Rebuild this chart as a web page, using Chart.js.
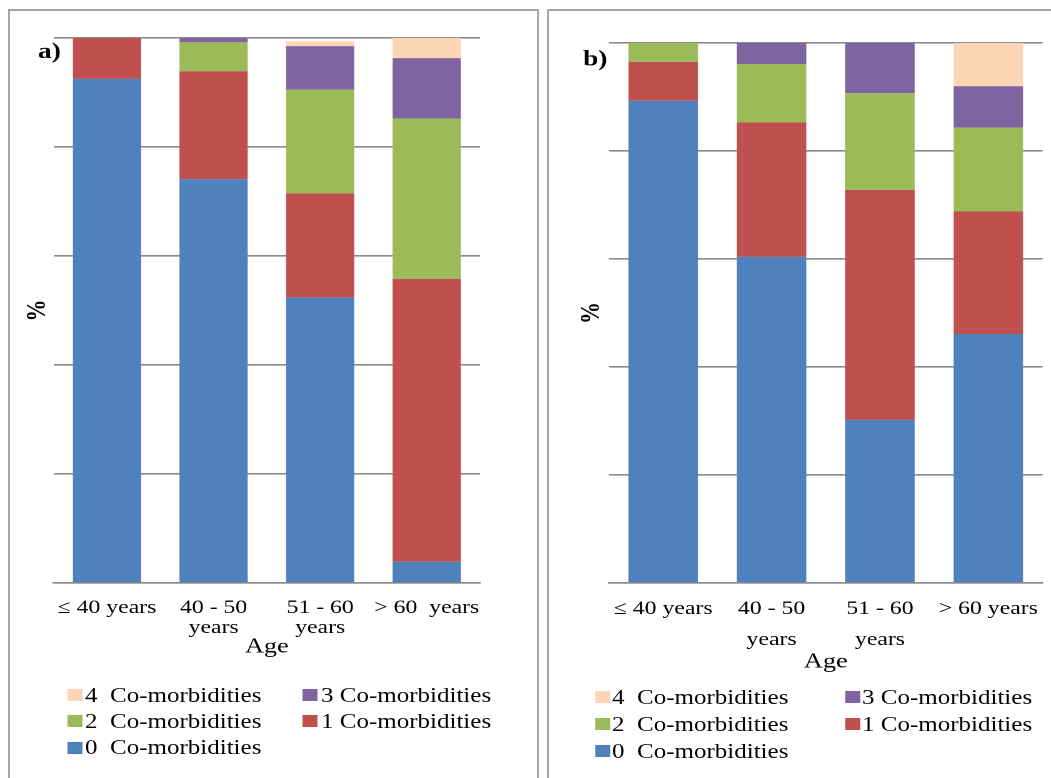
<!DOCTYPE html>
<html lang="en">
<head>
  <meta charset="UTF-8" />
  <title>Co-morbidities by age</title>
  <style>
    body {
      margin: 0;
      background: #fff;
      font-family: 'Liberation Serif', 'Times New Roman', serif;
      overflow: hidden;
    }
    .frame {
      position: absolute;
      box-sizing: border-box;
      border: 2px solid #a6a6a6;
      height: 820px;
    }
    /* the original picture is stretched sideways, so each panel is drawn narrow and scaled */
    .wrap {
      position: absolute;
      transform: scaleX(1.25);
      transform-origin: 0 0;
    }
    .wrap canvas {
      position: absolute;
      left: 0;
      top: 0;
    }
    .legend {
      position: absolute;
      display: grid;
      font-size: 20px;
      color: #000;
    }
    .legend .item {
      display: flex;
      align-items: center;
      white-space: pre;
    }
    .legend .box {
      display: inline-block;
      width: 12px;
      height: 12px;
    }
  </style>
</head>
<body>
  <div class="frame" style="left:8px; top:9px; width:531px;"></div>
  <div class="frame" style="left:547px; top:9px; width:520px;"></div>

  <div class="wrap" id="wrapA" style="left:10px; top:10px; width:422px; height:760px;">
    <canvas id="chartA"></canvas>
    <div class="legend" id="legendA"></div>
  </div>
  <div class="wrap" id="wrapB" style="left:549px; top:10px; width:402px; height:760px;">
    <canvas id="chartB"></canvas>
    <div class="legend" id="legendB"></div>
  </div>

  <script src="https://cdn.jsdelivr.net/npm/chart.js"></script>
  <script>
    // age groups (x axis)
    const ageLabelsA = ['\u2264 40 years', ['40 - 50', 'years'], ['51 - 60', 'years'], '> 60  years'];
    const ageLabelsB = ['\u2264 40 years', ['40 - 50', 'years'], ['51 - 60', 'years'], '> 60 years'];

    // series names, bottom of stack first
    const seriesNames = ['0  Co-morbidities', '1 Co-morbidities', '2  Co-morbidities', '3 Co-morbidities', '4  Co-morbidities'];
    const seriesColors = ['#4f81bd', '#c0504d', '#9bbb59', '#8064a2', '#fcd5b5'];

    // panel a) percentages
    const zeroA  = [92.5, 74.1, 52.4, 3.9];
    const oneA   = [7.5, 19.8, 19.1, 51.9];
    const twoA   = [0, 5.3, 19.0, 29.4];
    const threeA = [0, 0.8, 8.0, 11.1];
    const fourA  = [0, 0, 0.9, 3.7];

    // panel b) percentages
    const zeroB  = [89.3, 60.4, 30.2, 46.1];
    const oneB   = [7.2, 24.9, 42.6, 22.7];
    const twoB   = [3.5, 10.8, 17.9, 15.5];
    const threeB = [0, 3.9, 9.3, 7.7];
    const fourB  = [0, 0, 0, 8.0];

    // y axis: 0 - 100 %, gridline every 20
    const yMin = 0;
    const yMax = 100;
    const yStep = 20;

    const gridGrey = '#8c8c8c';
    const serif = "'Liberation Serif', 'Times New Roman', serif";

    // "a)" / "b)" panel tags
    const panelTag = {
      id: 'panelTag',
      afterDraw(chart, args, opts) {
        const ctx = chart.ctx;
        ctx.save();
        ctx.font = 'bold 22px ' + serif;
        ctx.fillStyle = '#000';
        ctx.textBaseline = 'middle';
        ctx.textAlign = 'left';
        ctx.fillText(opts.text, opts.x, opts.y);
        ctx.restore();
      }
    };

    function buildChart(canvasId, labels, series, cfg) {
      const datasets = series.map((values, i) => ({
        label: seriesNames[i],
        data: values,
        backgroundColor: seriesColors[i],
        borderWidth: 0,
        barPercentage: 0.64,
        categoryPercentage: 1
      }));

      const canvas = document.getElementById(canvasId);
      canvas.width = cfg.width;
      canvas.height = cfg.height;

      return new Chart(canvas.getContext('2d'), {
        type: 'bar',
        data: { labels: labels, datasets: datasets },
        plugins: [panelTag],
        options: {
          responsive: false,
          animation: false,
          devicePixelRatio: 2,
          layout: { padding: { top: cfg.top, right: cfg.right, left: 0, bottom: 0 } },
          plugins: {
            legend: { display: false },
            tooltip: { enabled: false },
            panelTag: cfg.tag
          },
          scales: {
            x: {
              stacked: true,
              grid: { display: false, drawTicks: false },
              border: { display: true, color: gridGrey, width: 1.6 },
              ticks: {
                color: '#000',
                font: { family: serif, size: 19, lineHeight: cfg.tickLine },
                padding: cfg.tickPad,
                maxRotation: 0,
                autoSkip: false
              },
              title: {
                display: true,
                text: 'Age',
                color: '#000',
                font: { family: serif, size: 21, lineHeight: 1 },
                padding: { top: 0, bottom: 0.5 }
              },
              afterFit(scale) { scale.height = cfg.height - cfg.plotBottom; }
            },
            y: {
              stacked: true,
              min: yMin,
              max: yMax,
              ticks: { display: false, stepSize: yStep },
              grid: { color: gridGrey, lineWidth: 1.6, drawTicks: false },
              border: { display: false },
              title: {
                display: true,
                text: '%',
                color: '#000',
                font: { family: serif, size: 22, weight: 'bold', lineHeight: 1 },
                padding: { top: cfg.yTitlePad, bottom: 0 }
              },
              afterFit(scale) { scale.width = cfg.yWidth; }
            }
          }
        }
      });
    }

    function buildLegend(divId, pos) {
      const div = document.getElementById(divId);
      div.style.left = pos.left + 'px';
      div.style.top = pos.top + 'px';
      div.style.gridTemplateColumns = pos.colGap + 'px auto';
      div.style.gridAutoRows = pos.rowH + 'px';
      // Excel order: top of stack first
      [4, 3, 2, 1, 0].forEach(i => {
        const item = document.createElement('div');
        item.className = 'item';
        const box = document.createElement('span');
        box.className = 'box';
        box.style.background = seriesColors[i];
        box.style.marginRight = pos.gap + 'px';
        const txt = document.createElement('span');
        txt.textContent = seriesNames[i];
        item.appendChild(box);
        item.appendChild(txt);
        div.appendChild(item);
      });
    }

    buildChart('chartA', ageLabelsA, [zeroA, oneA, twoA, threeA, fourA], {
      width: 422, height: 648, top: 28, right: 46, plotBottom: 573,
      yWidth: 35, yTitlePad: 11.4, tickLine: '20px', tickPad: 15,
      tag: { text: 'a)', x: 22.4, y: 42.5 }
    });
    buildChart('chartB', ageLabelsB, [zeroB, oneB, twoB, threeB, fourB], {
      width: 402, height: 663, top: 33, right: 3, plotBottom: 573,
      yWidth: 48, yTitlePad: 23.4, tickLine: '31px', tickPad: 10.5,
      tag: { text: 'b)', x: 27.2, y: 50 }
    });

    buildLegend('legendA', { left: 45.6, top: 672, colGap: 188.8, rowH: 26.3, gap: 2.4 });
    buildLegend('legendB', { left: 36.8, top: 673.5, colGap: 200, rowH: 27, gap: 1.6 });
  </script>
</body>
</html>
